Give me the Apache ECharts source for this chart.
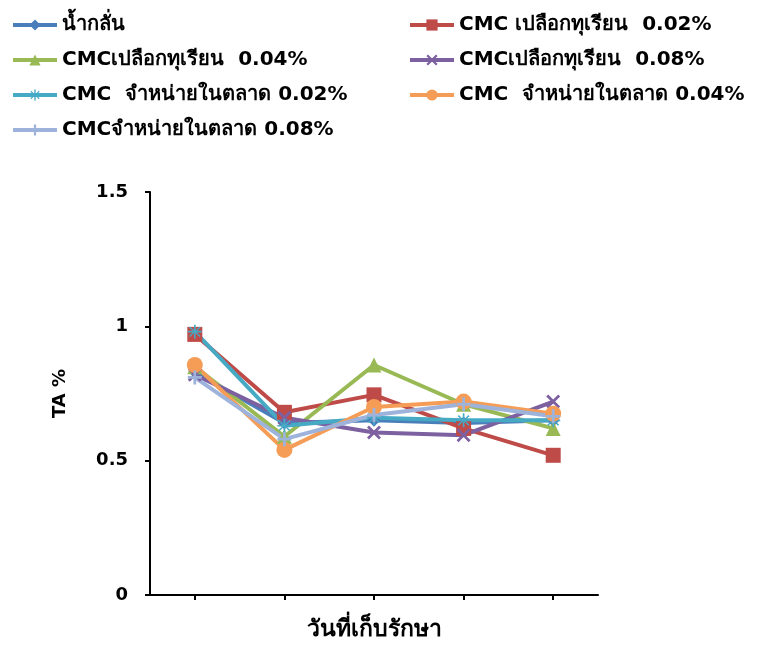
<!DOCTYPE html>
<html><head><meta charset="utf-8">
<script src="https://cdn.jsdelivr.net/npm/echarts@6/dist/echarts.min.js"></script>
<style>html,body{margin:0;padding:0;background:#fff}#c{width:762px;height:646px}</style>
</head><body><div id="c"></div>
<script>
const categories = ['1', '2', '3', '4', '5'];
const seriesNames = [
  'น้ำกลั่น',
  'CMC เปลือกทุเรียน  0.02%',
  'CMCเปลือกทุเรียน  0.04%',
  'CMCเปลือกทุเรียน  0.08%',
  'CMC  จำหน่ายในตลาด 0.02%',
  'CMC  จำหน่ายในตลาด 0.04%',
  'CMCจำหน่ายในตลาด 0.08%'
];
const water      = [0.83, 0.64, 0.65, 0.64, 0.65];
const durian002  = [0.97, 0.68, 0.745, 0.62, 0.52];
const durian004  = [0.85, 0.59, 0.856, 0.71, 0.62];
const durian008  = [0.82, 0.66, 0.605, 0.595, 0.72];
const market002  = [0.98, 0.63, 0.66, 0.65, 0.65];
const market004  = [0.856, 0.54, 0.70, 0.72, 0.675];
const market008  = [0.81, 0.58, 0.67, 0.71, 0.665];
const yTicks = [0, 0.5, 1, 1.5];

const values = [water, durian002, durian004, durian008, market002, market004, market008];
const colors = ['#4A7EBB', '#BE4B48', '#98B954', '#7D60A0', '#46AAC5', '#F59D56', '#9DB3DB'];
const plusP = 'path://M4,0h2v4h4v2h-4v4h-2v-4h-4v-2h4z';
const xP = 'path://M1.4,0L5,3.6L8.6,0L10,1.4L6.4,5L10,8.6L8.6,10L5,6.4L1.4,10L0,8.6L3.6,5L0,1.4z';
const starP = 'path://M4.4,0h1.2v4.0L8.4,1.2L9.2,2L6.4,4.4h3.6v1.2H6.4L9.2,8L8.4,8.8L5.6,6v4H4.4V6L1.6,8.8L0.8,8L3.6,5.6H0V4.4h3.6L0.8,2L1.6,1.2L4.4,4z';
const symbols = ['diamond', 'rect', 'triangle', xP, starP, 'circle', plusP];
const symSizes = [13, 15, 15, 14, 14, 16, 14];

const font = "Tahoma, 'DejaVu Sans', 'Noto Sans', sans-serif";
const series = values.map((v, i) => ({
  name: seriesNames[i], type: 'line', data: v,
  symbol: symbols[i], symbolSize: symSizes[i],
  lineStyle: { width: 4, color: colors[i] },
  itemStyle: { color: colors[i] },
  animation: false
}));

const legendBase = {
  orient: 'vertical', itemWidth: 44, itemHeight: 14, itemGap: 15,
  lineStyle: { width: 4 },
  textStyle: { fontFamily: font, fontSize: 20, fontWeight: 'bold', color: '#000' }
};
const chart = echarts.init(document.getElementById('c'), null, { renderer: 'canvas' });
chart.setOption({
  backgroundColor: '#fff',
  color: colors,
  legend: [
    Object.assign({}, legendBase, { left: 6, top: 10, data: [seriesNames[0], seriesNames[2], seriesNames[4], seriesNames[6]] }),
    Object.assign({}, legendBase, { left: 403, top: 10, data: [seriesNames[1], seriesNames[3], seriesNames[5]] })
  ],
  grid: { left: 150, right: 164, top: 192, bottom: 51, containLabel: false, outerBoundsMode: 'none' },
  xAxis: {
    type: 'category', data: categories, boundaryGap: true,
    name: 'วันที่เก็บรักษา', nameLocation: 'middle', nameGap: 24,
    nameTextStyle: { fontFamily: font, fontSize: 23, fontWeight: 'bold', color: '#000' },
    axisLine: { lineStyle: { color: '#000', width: 2 } },
    axisTick: { show: true, alignWithLabel: true, length: 5, lineStyle: { color: '#000', width: 2 } },
    axisLabel: { show: false },
    splitLine: { show: false }
  },
  yAxis: {
    type: 'value', min: yTicks[0], max: yTicks[yTicks.length - 1], interval: 0.5,
    name: 'TA %', nameLocation: 'middle', nameGap: 81, nameRotate: 90,
    nameTextStyle: { fontFamily: font, fontSize: 18, fontWeight: 'bold', color: '#000' },
    axisLine: { show: true, lineStyle: { color: '#000', width: 2 } },
    axisTick: { show: true, length: 5, lineStyle: { color: '#000', width: 2 } },
    axisLabel: { fontFamily: font, fontSize: 18, fontWeight: 'bold', color: '#000', margin: 22,
      formatter: v => String(v) },
    splitLine: { show: false }
  },
  series: series
});
</script></body></html>
